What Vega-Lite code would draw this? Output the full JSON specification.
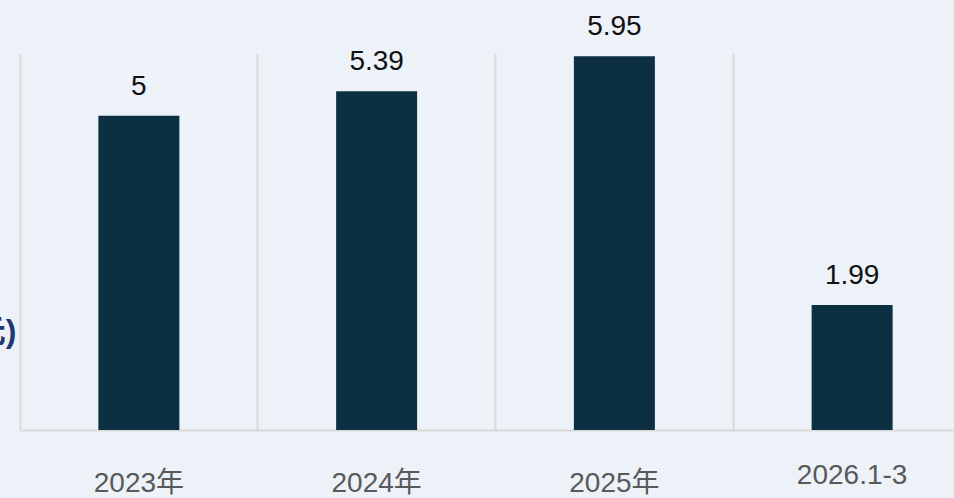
{
  "$schema": "https://vega.github.io/schema/vega-lite/v6.json",
  "autosize": {"type": "none"},
  "width": 934,
  "height": 377,
  "padding": {"left": 20, "top": 53, "right": 0, "bottom": 68},
  "background": "#edf2f9",
  "config": {"view": {"stroke": null}},
  "data": {"values": [
    {"period": "2023年", "value": 5},
    {"period": "2024年", "value": 5.39},
    {"period": "2025年", "value": 5.95},
    {"period": "2026.1-3", "value": 1.99}
  ]},
  "encoding": {
    "x": {
      "field": "period", "type": "nominal", "sort": null,
      "scale": {"range": [0, 951], "paddingInner": 0, "paddingOuter": 0},
      "axis": {
        "title": null, "labelAngle": 0, "ticks": false,
        "bandPosition": 0, "grid": true, "gridColor": "#d9d9d9", "gridWidth": 2,
        "domainColor": "#d9d9d9", "domainWidth": 2,
        "labelFont": "Liberation Sans, Noto Sans CJK SC", "labelFontSize": 28,
        "labelColor": "#595959", "labelBaseline": "top",
        "labelPadding": {"condition": {"test": "datum.value == '2026.1-3'", "value": 31}, "value": 39},
        "labelLimit": 400
      }
    },
    "y": {
      "field": "value", "type": "quantitative",
      "scale": {"domain": [0, 6], "nice": false},
      "axis": {
        "title": "(亿元)", "domain": false, "ticks": false, "labels": false, "grid": false,
        "titleAngle": 0, "titleAlign": "right", "titleBaseline": "middle",
        "titleX": -4, "titleY": 278,
        "titleFont": "Liberation Sans, Noto Sans CJK SC", "titleFontSize": 32,
        "titleFontWeight": "bold", "titleColor": "#1f3a70"
      }
    }
  },
  "layer": [
    {"mark": {"type": "bar", "size": 81, "color": "#0c2f42"}},
    {
      "mark": {"type": "text", "baseline": "alphabetic", "dy": -21, "fontSize": 28,
               "font": "Liberation Sans", "color": "#111111"},
      "encoding": {"text": {"field": "value", "type": "quantitative"}}
    }
  ]
}
